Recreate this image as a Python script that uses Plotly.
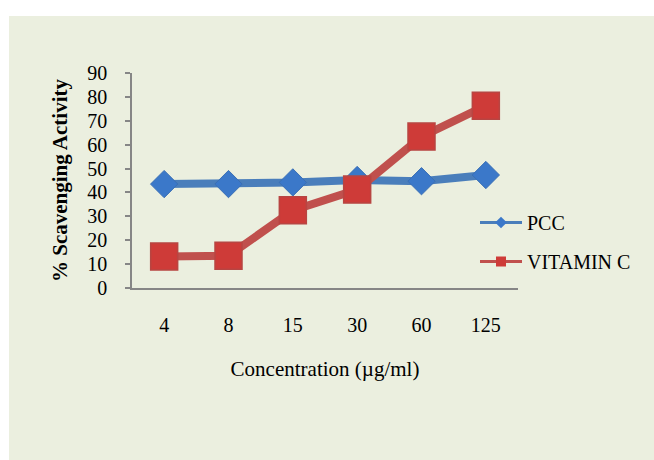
import plotly.graph_objects as go

categories = ["4", "8", "15", "30", "60", "125"]
pcc = [43.5, 43.5, 44.2, 45.2, 44.7, 47.3]
vitamin_c = [13.2, 13.5, 32.5, 41.2, 63.4, 76.3]
y_ticks = [0, 10, 20, 30, 40, 50, 60, 70, 80, 90]

W, H = 654, 460
L, R, T, B = 132, 136, 73, 172
pw, ph = W - L - R, H - T - B

def px_to_paper_x(px):
    return (px - L) / pw

def px_to_paper_y(py):
    return (H - B - py) / ph

font_family = "Liberation Serif, Times New Roman, serif"
blue_line, blue_marker = "#4A7EBB", "#3B78C9"
red_line, red_marker = "#C0504D", "#CE3B38"

fig = go.Figure()
fig.add_trace(go.Scatter(
    x=categories, y=pcc, name="PCC", mode="lines+markers", showlegend=False,
    line=dict(color=blue_line, width=8),
    marker=dict(symbol="diamond", size=21, color=blue_marker,
                line=dict(color="#3A6FB5", width=1)),
))
fig.add_trace(go.Scatter(
    x=categories, y=vitamin_c, name="VITAMIN C", mode="lines+markers", showlegend=False,
    line=dict(color=red_line, width=8),
    marker=dict(symbol="square", size=27, color=red_marker,
                line=dict(color="#B84542", width=1.5)),
))
# legend entries (thin line, small marker as in the reference legend)
fig.add_trace(go.Scatter(
    x=[None], y=[None], name="PCC", mode="lines+markers", legendgroup="a",
    line=dict(color=blue_line, width=3),
    marker=dict(symbol="diamond", size=9, color=blue_marker),
))
fig.add_trace(go.Scatter(
    x=[None], y=[None], name="VITAMIN C", mode="lines+markers", legendgroup="b",
    line=dict(color=red_line, width=3),
    marker=dict(symbol="square", size=10, color=red_marker),
))

fig.add_shape(type="rect", xref="paper", yref="paper", layer="below",
              x0=px_to_paper_x(9), x1=px_to_paper_x(660),
              y0=px_to_paper_y(470), y1=px_to_paper_y(16),
              fillcolor="#EBEFDF", line=dict(width=0))

fig.update_layout(
    width=W, height=H,
    margin=dict(l=L, r=R, t=T, b=B, pad=0),
    paper_bgcolor="white",
    plot_bgcolor="rgba(0,0,0,0)",
    font=dict(family=font_family, size=20, color="black"),
    showlegend=True,
    legend=dict(
        x=px_to_paper_x(475), y=px_to_paper_y(203),
        xanchor="left", yanchor="top",
        bgcolor="rgba(0,0,0,0)",
        font=dict(family=font_family, size=20, color="black"),
        traceorder="grouped", tracegroupgap=10,
        itemwidth=42,
    ),
    xaxis=dict(
        type="category", categoryorder="array", categoryarray=categories,
        range=[-0.5, 5.5],
        showline=True, linecolor="#868686", linewidth=1.5,
        showgrid=False, zeroline=False, ticks="",
        ticklabelstandoff=18,
        tickfont=dict(family=font_family, size=20),
        title=dict(text="Concentration (µg/ml)", standoff=27,
                   font=dict(family=font_family, size=21)),
    ),
    yaxis=dict(
        range=[0, 90], tickvals=y_ticks,
        showline=True, linecolor="#868686", linewidth=1.5,
        showgrid=False, zeroline=False,
        ticks="outside", ticklen=5, tickcolor="#868686", tickwidth=1.5,
        ticklabelstandoff=14,
        tickfont=dict(family=font_family, size=20),
        title=dict(text="<b>% Scavenging Activity</b>", standoff=14,
                   font=dict(family=font_family, size=21)),
    ),
)

fig.write_html("out.html")
